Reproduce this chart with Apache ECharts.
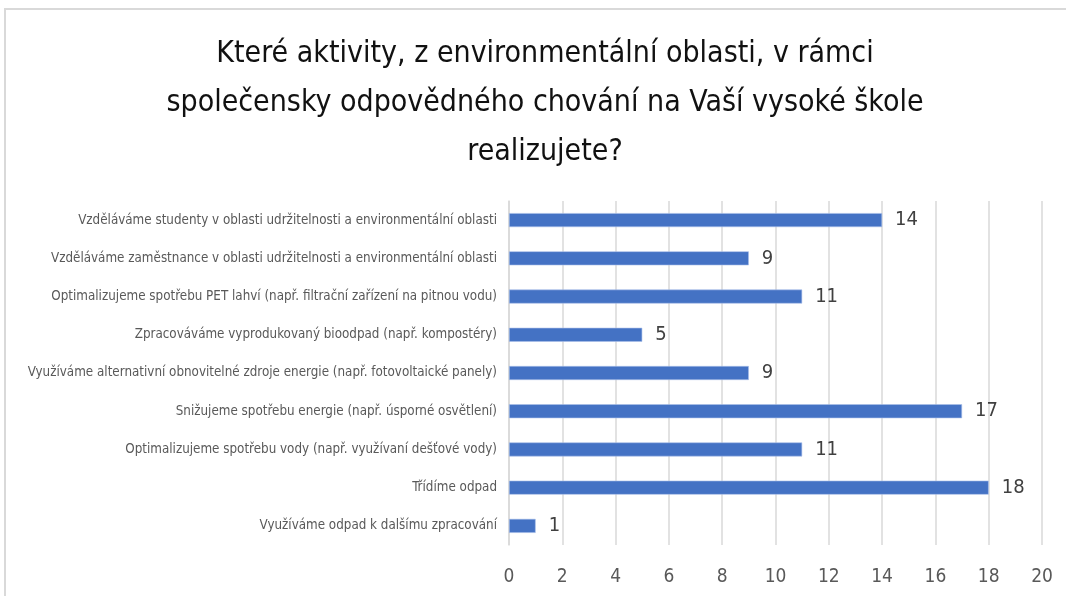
<!DOCTYPE html>
<html>
<head>
<meta charset="utf-8">
<script src="https://cdn.jsdelivr.net/npm/echarts@6/dist/echarts.min.js"></script>
<style>
  html, body { margin: 0; padding: 0; background: #fff; }
  #chart { width: 1066px; height: 596px; }
</style>
</head>
<body>
<div id="chart"></div>
<script>
// categories listed bottom to top (category axis starts at the bottom)
const categories = [
  'Využíváme odpad k dalšímu zpracování',
  'Třídíme odpad',
  'Optimalizujeme spotřebu vody (např. využívaní dešťové vody)',
  'Snižujeme spotřebu energie (např. úsporné osvětlení)',
  'Využíváme alternativní obnovitelné zdroje energie (např. fotovoltaické panely)',
  'Zpracováváme vyprodukovaný bioodpad (např. kompostéry)',
  'Optimalizujeme spotřebu PET lahví (např. filtrační zařízení na pitnou vodu)',
  'Vzděláváme zaměstnance v oblasti udržitelnosti a environmentální oblasti',
  'Vzděláváme studenty v oblasti udržitelnosti a environmentální oblasti'
]
const counts = [1, 18, 11, 17, 9, 5, 11, 9, 14]
const titleLines = [
  'Které aktivity, z environmentální oblasti, v rámci',
  'společensky odpovědného chování na Vaší vysoké škole',
  'realizujete?'
]

const font = '"DejaVu Sans Condensed", "Liberation Sans Narrow", "Open Sans", sans-serif'

const chart = echarts.init(document.getElementById('chart'))
chart.setOption({
  animation: false,
  title: {
    text: titleLines.join('\n'),
    left: 540,
    textAlign: 'center',
    top: 25,
    textStyle: { fontFamily: font, fontSize: 30, fontWeight: 'normal', color: '#111', lineHeight: 49 }
  },
  graphic: [{
    type: 'rect',
    shape: { x: 5, y: 9, width: 1200, height: 700 },
    style: { fill: 'none', stroke: '#d9d9d9', lineWidth: 2 },
    silent: true
  }],
  grid: { left: 509, right: 24, top: 201, bottom: 51, containLabel: false },
  xAxis: {
    type: 'value',
    min: 0,
    max: 20,
    interval: 2,
    axisLine: { show: false },
    axisTick: { show: false },
    splitLine: { lineStyle: { color: '#d9d9d9', width: 1.5 } },
    axisLabel: { fontFamily: font, fontSize: 19, color: '#595959', margin: 23 }
  },
  yAxis: {
    type: 'category',
    data: categories,
    axisLine: { lineStyle: { color: '#d9d9d9', width: 1.5 } },
    axisTick: { show: false },
    axisLabel: { fontFamily: font, fontSize: 13.3, color: '#595959', margin: 12 }
  },
  series: [{
    type: 'bar',
    data: counts,
    barWidth: 14,
    itemStyle: { color: '#4472c4', borderColor: '#a9c0ea', borderWidth: 0.6 },
    label: {
      show: true,
      position: 'right',
      distance: 13,
      fontFamily: font,
      fontSize: 20,
      color: '#404040'
    }
  }]
})
</script>
</body>
</html>
